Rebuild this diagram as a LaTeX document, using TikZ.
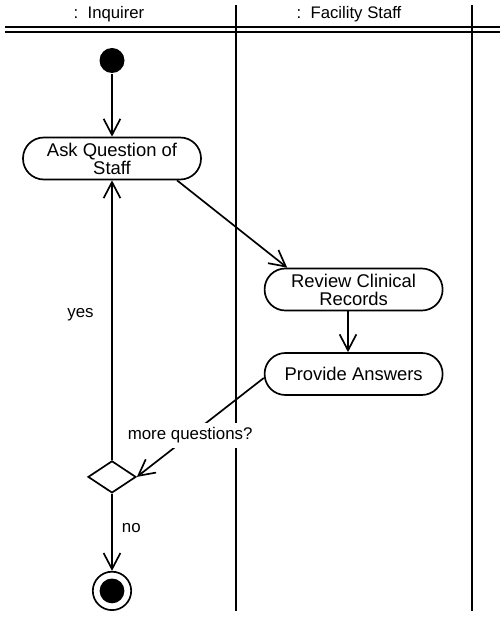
\documentclass[tikz,border=0pt]{standalone}
\usepackage{fontspec}
\setmainfont{Liberation Sans}
\usetikzlibrary{positioning, arrows.meta, shapes.geometric}
\tikzset{
    >={Straight Barb[length=4mm, width=4.2mm]}, % Open arrowheads
    lane/.style={line width=1pt}, % Swimlane borders
    header/.style={anchor=base, font=\fontsize{11.9}{13}\selectfont}, % Lane titles
}

\begin{document}
\begin{tikzpicture}[
    on grid,
    line width=1.2pt,
    every node/.style={font=\fontsize{12}{13}\selectfont},
    activity/.style={draw, rounded corners=5.2mm, minimum width=4.45cm, minimum height=1.05cm,
        align=center, inner sep=1pt, font=\fontsize{13.1}{12.9}\selectfont},
    startdot/.style={circle, fill, minimum size=6.25mm, inner sep=0pt},
    enddot/.style={circle, draw, minimum size=9.6mm, inner sep=0pt,
        path picture={\fill (path picture bounding box.center) circle (3.1mm);}},
    decision/.style={diamond, draw, minimum width=1.2cm, minimum height=0.8cm, inner sep=0pt},
    guard/.style={fill=white}
]
    \useasboundingbox (0,0) rectangle (12.5,-15.425);

    % --- Swimlanes ---
    \node[header] (inqhead) at (2.725,-0.46) {:\ \ Inquirer};
    \node[header] (staffhead) at (8.725,-0.46) {:\ \ Facility Staff};
    \draw[lane] (0.125,-0.675) -- (12.5,-0.675);
    \draw[lane] (0.125,-0.8) -- (12.5,-0.8);
    \draw[lane] (5.9,-0.125) -- (5.9,-15.275);
    \draw[lane] (11.8,-0.125) -- (11.8,-15.275);

    % --- Nodes ---
    \node[startdot] (start) at (2.8,-1.5125) {};
    \node[activity] (ask) [below=2.45cm of start] {Ask Question of\\Staff};
    \node[activity] (review) [below right=3.275cm and 6.04cm of ask] {Review Clinical\\Records};
    \node[activity] (provide) [below=2.1125cm of review] {Provide Answers};
    \node[decision] (choice) [below=7.96cm of ask] {};
    \node[enddot] (finish) [below=2.85cm of choice] {};

    % --- Transitions ---
    \path[->]
        (start) edge (ask)
        ([xshift=16.25mm]ask.south) edge ([xshift=-16.6mm]review.north)
        ([xshift=-1.4mm]review.south) edge ([xshift=-1.4mm]provide.north)
        ([yshift=-1mm]provide.west) edge node[guard, pos=0.58] {more questions?} (choice.east)
        (choice) edge node[pos=0.52, left=3.2mm] {yes} (ask)
        (choice) edge node[pos=0.45, right=1.1mm] {no} (finish);

\end{tikzpicture}
\end{document}
